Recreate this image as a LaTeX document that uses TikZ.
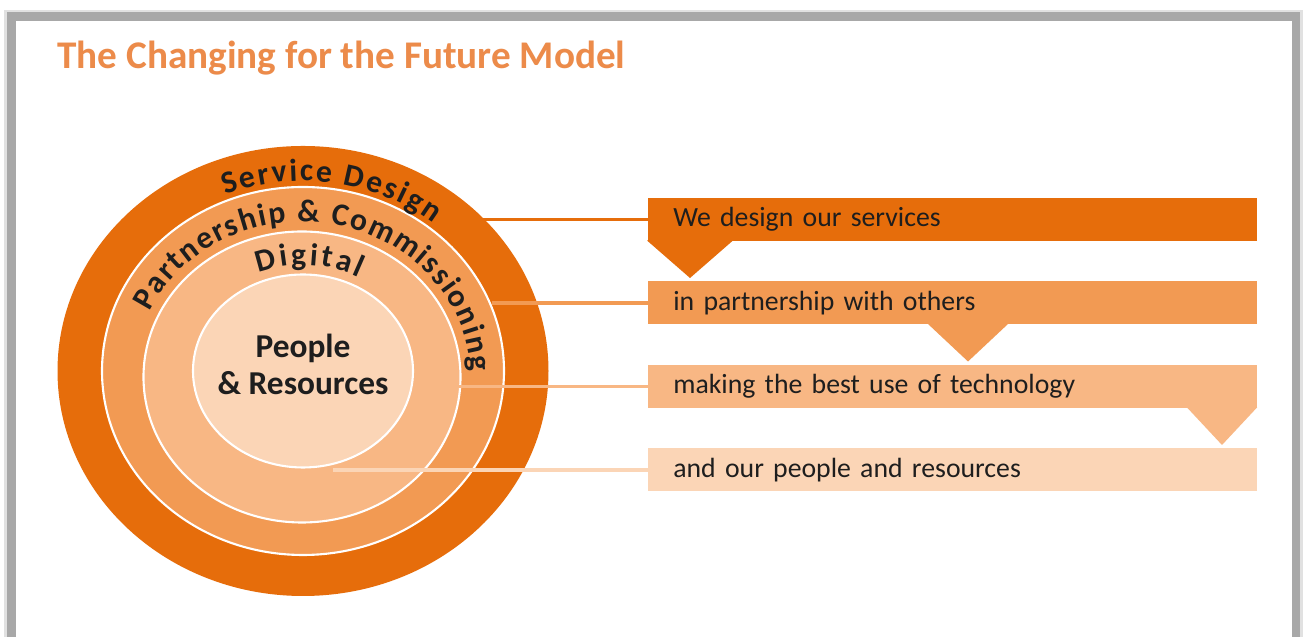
\documentclass[tikz,border=0pt]{standalone}
\usepackage{fontspec}
\setmainfont{Carlito}
\usepackage{xcolor}
\usetikzlibrary{calc,decorations.text}
\definecolor{ringDark}{HTML}{E66D0B}
\definecolor{ringMid}{HTML}{F29A53}
\definecolor{ringLight}{HTML}{F8B784}
\definecolor{ringPale}{HTML}{FBD5B6}
\definecolor{titleOrange}{HTML}{EC8B4A}
\definecolor{inkDark}{HTML}{1E1E1E}
\definecolor{frameGray}{HTML}{A8A8A8}

\begin{document}
\begin{tikzpicture}[
    banner/.style={anchor=west,minimum height=0.86cm,text width=11.18cm,
      inner xsep=0.5cm,inner ysep=0pt,align=left,text=inkDark,
      font=\fontsize{15.8}{16}\selectfont},
    ringtext/.style={decorate,decoration={text along path,text align=fit to path,
      text={|\color{inkDark}\bfseries\fontsize{18}{18}\selectfont|#1}}},
    link/.style={line width=2.2pt}]
    \useasboundingbox (0,0) rectangle (26.12,12.74);
    \fill[frameGray!35] (0.08,0) rectangle (26.06,12.54);
    \fill[frameGray] (0.14,0) rectangle (26.0,12.50);
    \fill[white] (0.32,0) rectangle (25.84,12.32);
    \node[anchor=west,inner sep=0pt,text=titleOrange,font=\bfseries\fontsize{22.3}{22}\selectfont]
      (title) at (1.14,11.58) {The Changing for the Future Model};
    \coordinate (c) at (6.06,5.32);
    \coordinate (c3) at (6.04,5.20);
    \fill[ringDark] (c) ellipse (4.91 and 4.50);
    \filldraw[fill=ringMid,draw=white,line width=1.2pt] (c) ellipse (4.02 and 3.68);
    \filldraw[fill=ringLight,draw=white,line width=1.2pt] (c3) ellipse (3.17 and 2.91);
    \filldraw[fill=ringPale,draw=white,line width=1.2pt] (c) ellipse (2.20 and 1.93);
    \path[ringtext={Service Design}]
      ($(c)+(112:4.14 and 3.80)$) arc[start angle=112,end angle=51,x radius=4.14,y radius=3.80];
    \path[ringtext={Partnership {\&} Commissioning}]
      ($(c3)+(155:3.37 and 3.10)$) arc[start angle=155,end angle=2,x radius=3.37,y radius=3.10];
    \path[ringtext={Digital}]
      ($(c)+(112:2.38 and 2.12)$) arc[start angle=112,end angle=62,x radius=2.38,y radius=2.12];
    \node[align=center,text=inkDark,font=\bfseries\fontsize{19}{21}\selectfont]
      (pr) at (6.06,5.46) {People\\\& Resources};
    \foreach \i/\y/\col/\txt in {1/8.35/ringDark/We design our services,
        2/6.68/ringMid/in partnership with others,
        3/5.01/ringLight/making the best use of technology,
        4/3.34/ringPale/and our people and resources}
      {\node[banner,fill=\col] (b\i) at (12.96,\y) {\txt};}
    \foreach \y/\tx/\hw/\col in {8.35/13.80/0.86/ringDark,6.68/19.36/0.80/ringMid,5.01/24.44/0.70/ringLight}
      {\fill[\col] ({\tx-\hw},{\y-0.42}) -- ({\tx+\hw},{\y-0.42}) -- (\tx,{\y-1.17}) -- cycle;}
    \coordinate (sdedge) at (9.65,8.35);
    \coordinate (pcedge) at (9.84,6.68);
    \coordinate (dgedge) at (9.18,5.01);
    \coordinate (predge) at (6.66,3.34);
    \foreach \e/\i/\col in {sdedge/1/ringDark,pcedge/2/ringMid,dgedge/3/ringLight,predge/4/ringPale}
      {\draw[link,\col] (\e) -- (b\i.west);}
  \end{tikzpicture}
\end{document}
